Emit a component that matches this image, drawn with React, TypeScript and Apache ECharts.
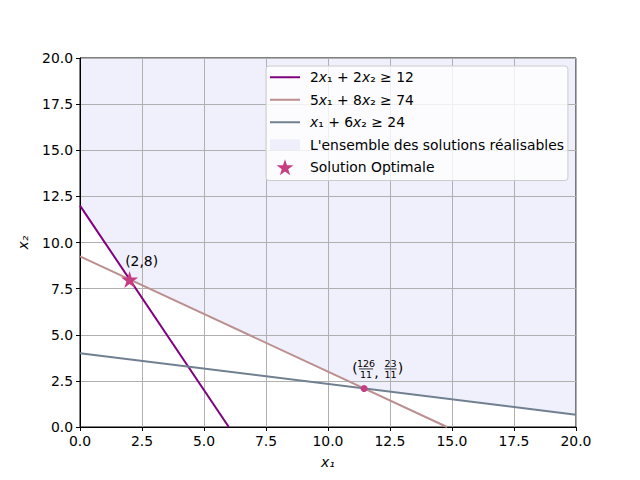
import React, { useEffect, useRef } from "react";
import * as echarts from "echarts";

const axisMin = 0;
const axisMax = 20;
const tickStep = 2.5;

const line1 = [[0, 12], [6, 0]];
const line2 = [[0, 9.25], [14.8, 0]];
const line3 = [[0, 4], [20, 0.6667]];
const feasible = [[0, 20], [0, 12], [2, 8], [126 / 11, 23 / 11], [20, 0.6667], [20, 20]];
const optimum = [[2, 8]];
const intersection = [[126 / 11, 23 / 11]];

const names = [
  "2x₁ + 2x₂ ≥ 12",
  "5x₁ + 8x₂ ≥ 74",
  "x₁ + 6x₂ ≥ 24",
  "L'ensemble des solutions réalisables",
  "Solution Optimale",
];

const STAR = "path://M0,-100 L22.45,-30.9 L95.1,-30.9 L36.3,11.8 L58.8,80.9 L0,38.2 L-58.8,80.9 L-36.3,11.8 L-95.1,-30.9 L-22.45,-30.9 Z";
const LINE_ICON = "path://M0,0 M0,7 L30,7 L30,9 L0,9 Z M30,16";
const RECT_ICON = "path://M0,0 M0,2.5 L30,2.5 L30,13.5 L0,13.5 Z M30,16";
const FONT = "DejaVu Sans";
const FS = 13.9;
const FILL = "rgba(230,230,250,0.6)";
const PINK = "#c63d82";

function legendFmt(name: string) {
  return name.replace(/x([₁₂])/g, "{i|x}$1");
}

export default function App() {
  const ref = useRef<HTMLDivElement>(null);
  useEffect(() => {
    if (!ref.current) return;
    const chart = echarts.init(ref.current, null, { renderer: "svg" });
    const axisCommon = {
      type: "value" as const,
      min: axisMin,
      max: axisMax,
      interval: tickStep,
      axisLine: { show: true, onZero: false, lineStyle: { color: "#000", width: 1 } },
      axisTick: { show: true, inside: false, length: 4, lineStyle: { color: "#000" } },
      axisLabel: {
        color: "#000",
        fontFamily: FONT,
        fontSize: FS,
        formatter: (v: number) => v.toFixed(1),
      },
      splitLine: { show: true, lineStyle: { color: "#b0b0b0", width: 1 } },
      nameLocation: "middle" as const,
      nameTextStyle: { color: "#000", fontFamily: FONT, fontSize: FS, fontStyle: "italic" as const },
    };
    chart.setOption({
      animation: false,
      backgroundColor: "#fff",
      grid: {
        left: 80,
        top: 58,
        width: 496,
        height: 369,
        show: true,
        borderColor: "#000",
        borderWidth: 1,
        backgroundColor: "transparent",
      },
      xAxis: { ...axisCommon, name: "x₁", nameGap: 28, axisLabel: { ...axisCommon.axisLabel, margin: 7 } },
      yAxis: { ...axisCommon, name: "x₂", nameGap: 50, axisLabel: { ...axisCommon.axisLabel, margin: 7 } },
      legend: {
        orient: "vertical",
        left: 266,
        top: 66,
        padding: [3, 4, 5, 4],
        itemWidth: 30,
        itemHeight: 16,
        itemGap: 6,
        backgroundColor: "rgba(255,255,255,0.8)",
        borderColor: "#cccccc",
        borderWidth: 1,
        borderRadius: 3,
        formatter: legendFmt,
        textStyle: {
          color: "#000",
          fontFamily: FONT,
          fontSize: FS,
          lineHeight: 16.5,
          padding: [0, 0, 0, 5],
          rich: { i: { fontStyle: "italic", fontFamily: FONT, fontSize: FS, lineHeight: 16.5, color: "#000" } },
        },
        data: [
          { name: names[0], icon: LINE_ICON },
          { name: names[1], icon: LINE_ICON },
          { name: names[2], icon: LINE_ICON },
          { name: names[3], icon: RECT_ICON, itemStyle: { color: FILL } },
          { name: names[4], icon: STAR, itemStyle: { color: PINK, opacity: 1 } },
        ],
      },
      series: [
        {
          name: names[3],
          type: "custom",
          z: -1,
          color: FILL,
          data: [0],
          renderItem: (params: any, api: any) => ({
            type: "polygon",
            shape: { points: feasible.map((p) => api.coord(p)) },
            style: { fill: FILL },
          }),
        },
        {
          name: names[0],
          type: "line",
          data: line1,
          symbol: "none",
          z: 3,
          color: "#800080",
          lineStyle: { color: "#800080", width: 2 },
        },
        {
          name: names[1],
          type: "line",
          data: line2,
          symbol: "none",
          z: 3,
          color: "#bc8f8f",
          lineStyle: { color: "#bc8f8f", width: 2 },
        },
        {
          name: names[2],
          type: "line",
          data: line3,
          symbol: "none",
          z: 3,
          color: "#708090",
          lineStyle: { color: "#708090", width: 2 },
        },
        {
          name: names[4],
          type: "scatter",
          data: optimum,
          symbol: STAR,
          symbolSize: 17,
          z: 5,
          color: PINK,
          itemStyle: { color: PINK, opacity: 1 },
          label: {
            show: true,
            position: "top",
            formatter: "(2,8)",
            offset: [12, 2],
            color: "#000",
            fontFamily: FONT,
            fontSize: FS,
          },
        },
        {
          name: "intersection",
          type: "scatter",
          data: intersection,
          symbol: "circle",
          symbolSize: 7,
          z: 5,
          itemStyle: { color: PINK, opacity: 1 },
        },
      ],
    });

    const p = chart.convertToPixel({ gridIndex: 0 }, intersection[0]) as number[];
    const small = { fontFamily: FONT, fontSize: 9.5, fill: "#000", align: "center", verticalAlign: "middle" };
    const big = { fontFamily: FONT, fontSize: 14, fill: "#000", align: "center", verticalAlign: "middle" };
    chart.setOption({
      graphic: [
        {
          type: "group",
          x: p[0],
          y: p[1],
          z: 10,
          children: [
            { type: "text", x: -9, y: -20, style: { ...big, text: "(" } },
            { type: "text", x: 2, y: -25, style: { ...small, text: "126" } },
            { type: "line", shape: { x1: -5, y1: -19.5, x2: 9, y2: -19.5 }, style: { stroke: "#000", lineWidth: 0.8 } },
            { type: "text", x: 2, y: -14, style: { ...small, text: "11" } },
            { type: "text", x: 12.5, y: -16, style: { ...big, text: "," } },
            { type: "text", x: 26.5, y: -25, style: { ...small, text: "23" } },
            { type: "line", shape: { x1: 20.5, y1: -19.5, x2: 32.5, y2: -19.5 }, style: { stroke: "#000", lineWidth: 0.8 } },
            { type: "text", x: 26.5, y: -14, style: { ...small, text: "11" } },
            { type: "text", x: 36.5, y: -20, style: { ...big, text: ")" } },
          ],
        },
      ],
    });

    return () => chart.dispose();
  }, []);
  return (
    <div
      ref={ref}
      style={{ position: "fixed", left: 0, top: 0, width: 640, height: 480 }}
    />
  );
}
